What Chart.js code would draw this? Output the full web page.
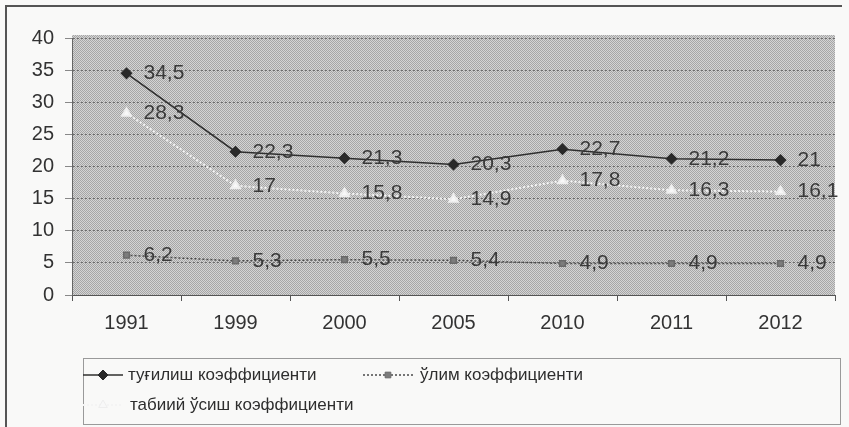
<!DOCTYPE html>
<html>
<head>
<meta charset="utf-8">
<script src="https://cdn.jsdelivr.net/npm/chart.js@4.4.1/dist/chart.umd.min.js"></script>
<style>
  html, body { margin: 0; padding: 0; background: #f2f2f0; }
  #wrap { width: 849px; height: 427px; }
</style>
</head>
<body>
<div id="wrap"><canvas id="chart" width="849" height="427"></canvas></div>
<script>
const years = ['1991', '1999', '2000', '2005', '2010', '2011', '2012'];
const birthRate = [34.5, 22.3, 21.3, 20.3, 22.7, 21.2, 21];
const deathRate = [6.2, 5.3, 5.5, 5.4, 4.9, 4.9, 4.9];
const growthRate = [28.3, 17, 15.8, 14.9, 17.8, 16.3, 16.1];
const seriesNames = ['туғилиш коэффициенти', 'ўлим коэффициенти', 'табиий ўсиш коэффициенти'];

const FONT = '"Liberation Sans", Arial, sans-serif';

// dotted grey texture for the plot area
function makePattern() {
    const p = document.createElement('canvas');
    p.width = 2; p.height = 2;
    const g = p.getContext('2d');
    g.fillStyle = '#d4d4d4'; g.fillRect(0, 0, 2, 2);
    g.fillStyle = '#a6a6a6'; g.fillRect(0, 0, 1, 1); g.fillRect(1, 1, 1, 1);
    return document.getElementById('chart').getContext('2d').createPattern(p, 'repeat');
}
const plotPattern = makePattern();

const backgroundPlugin = {
    id: 'background',
    beforeDraw(chart) {
        const ctx = chart.ctx;
        const a = chart.chartArea;
        ctx.save();
        ctx.fillStyle = '#f9f9f8';
        ctx.fillRect(0, 0, chart.width, chart.height);
        // outer frame
        ctx.strokeStyle = '#555';
        ctx.lineWidth = 2;
        ctx.beginPath();
        ctx.moveTo(6, chart.height);
        ctx.lineTo(6, 6);
        ctx.lineTo(842, 6);
        ctx.stroke();
        ctx.fillStyle = plotPattern;
        ctx.fillRect(a.left, a.top - 3, a.right - a.left, a.bottom - a.top + 3);
        ctx.restore();
    }
};

const valueLabels = {
    id: 'valueLabels',
    afterDatasetsDraw(chart) {
        const ctx = chart.ctx;
        ctx.save();
        ctx.font = '21px ' + FONT;
        ctx.fillStyle = '#3a3a3a';
        ctx.textAlign = 'left';
        ctx.textBaseline = 'middle';
        chart.data.datasets.forEach((ds, i) => {
            chart.getDatasetMeta(i).data.forEach((pt, j) => {
                ctx.fillText(String(ds.data[j]).replace('.', ','), pt.x + 17, pt.y);
            });
        });
        ctx.restore();
    }
};

// boxed legend drawn under the axis
const boxLegend = {
    id: 'boxLegend',
    afterDraw(chart) {
        const ctx = chart.ctx;
        // x, y, sample line length, text gap
        const spots = [[83, 375, 40, 45], [363, 375, 50, 57], [83, 405, 40, 47]];
        ctx.save();
        ctx.strokeStyle = '#9a9a9a';
        ctx.lineWidth = 1;
        ctx.strokeRect(83.5, 358.5, 757, 66);
        ctx.font = '17px ' + FONT;
        ctx.textBaseline = 'middle';
        chart.data.datasets.forEach((ds, i) => {
            const [x, y, len, gap] = spots[i];
            ctx.strokeStyle = ds.borderColor;
            ctx.lineWidth = ds.borderWidth;
            ctx.setLineDash(ds.borderDash || []);
            ctx.beginPath();
            ctx.moveTo(x, y);
            ctx.lineTo(x + len, y);
            ctx.stroke();
            ctx.setLineDash([]);
            ctx.fillStyle = ds.pointBackgroundColor;
            ctx.strokeStyle = ds.pointBorderColor;
            ctx.lineWidth = 1;
            Chart.helpers.drawPoint(ctx, { pointStyle: ds.pointStyle, radius: ds.pointRadius, borderWidth: 1 }, x + len / 2, y);
            ctx.fillStyle = '#2e2e2e';
            ctx.fillText(ds.label, x + gap, y);
        });
        ctx.restore();
    }
};

new Chart(document.getElementById('chart'), {
    type: 'line',
    data: {
        labels: years,
        datasets: [
            {
                label: seriesNames[0],
                data: birthRate,
                borderColor: '#2f2f2f',
                borderWidth: 1.5,
                pointStyle: 'rectRot',
                pointRadius: 5,
                pointBackgroundColor: '#2a2a2a',
                pointBorderColor: '#2a2a2a',
            },
            {
                label: seriesNames[1],
                data: deathRate,
                borderColor: '#4a4a4a',
                borderWidth: 1.5,
                borderDash: [2, 2],
                pointStyle: 'rect',
                pointRadius: 4,
                pointBackgroundColor: '#7c7c7c',
                pointBorderColor: '#6a6a6a',
            },
            {
                label: seriesNames[2],
                data: growthRate,
                borderColor: '#f4f4f4',
                borderWidth: 2,
                borderDash: [2, 2],
                pointStyle: 'triangle',
                pointRadius: 5,
                pointBackgroundColor: '#f8f8f8',
                pointBorderColor: '#eeeeee',
            },
        ],
    },
    options: {
        responsive: false,
        animation: false,
        devicePixelRatio: 1,
        layout: { padding: { top: 38, right: 14, bottom: 0, left: 0 } },
        plugins: {
            legend: { display: false },
            tooltip: { enabled: false },
        },
        scales: {
            x: {
                offset: true,
                grid: {
                    offset: true,
                    drawOnChartArea: false,
                    drawTicks: true,
                    tickLength: 6,
                    color: '#555',
                },
                border: { color: '#555', width: 1 },
                ticks: {
                    color: '#333',
                    font: { family: FONT, size: 20 },
                    padding: 10,
                },
                afterFit: scale => { scale.height = 132; },
            },
            y: {
                min: 0,
                max: 40,
                ticks: {
                    stepSize: 5,
                    color: '#333',
                    font: { family: FONT, size: 20 },
                    padding: 11,
                },
                grid: {
                    color: '#6c6c6c',
                    tickLength: 7,
                    tickColor: '#888',
                },
                border: { color: '#666', width: 1, dash: [2, 2] },
                afterFit: scale => { scale.width = 72; },
            },
        },
    },
    plugins: [backgroundPlugin, valueLabels, boxLegend],
});
</script>
</body>
</html>
